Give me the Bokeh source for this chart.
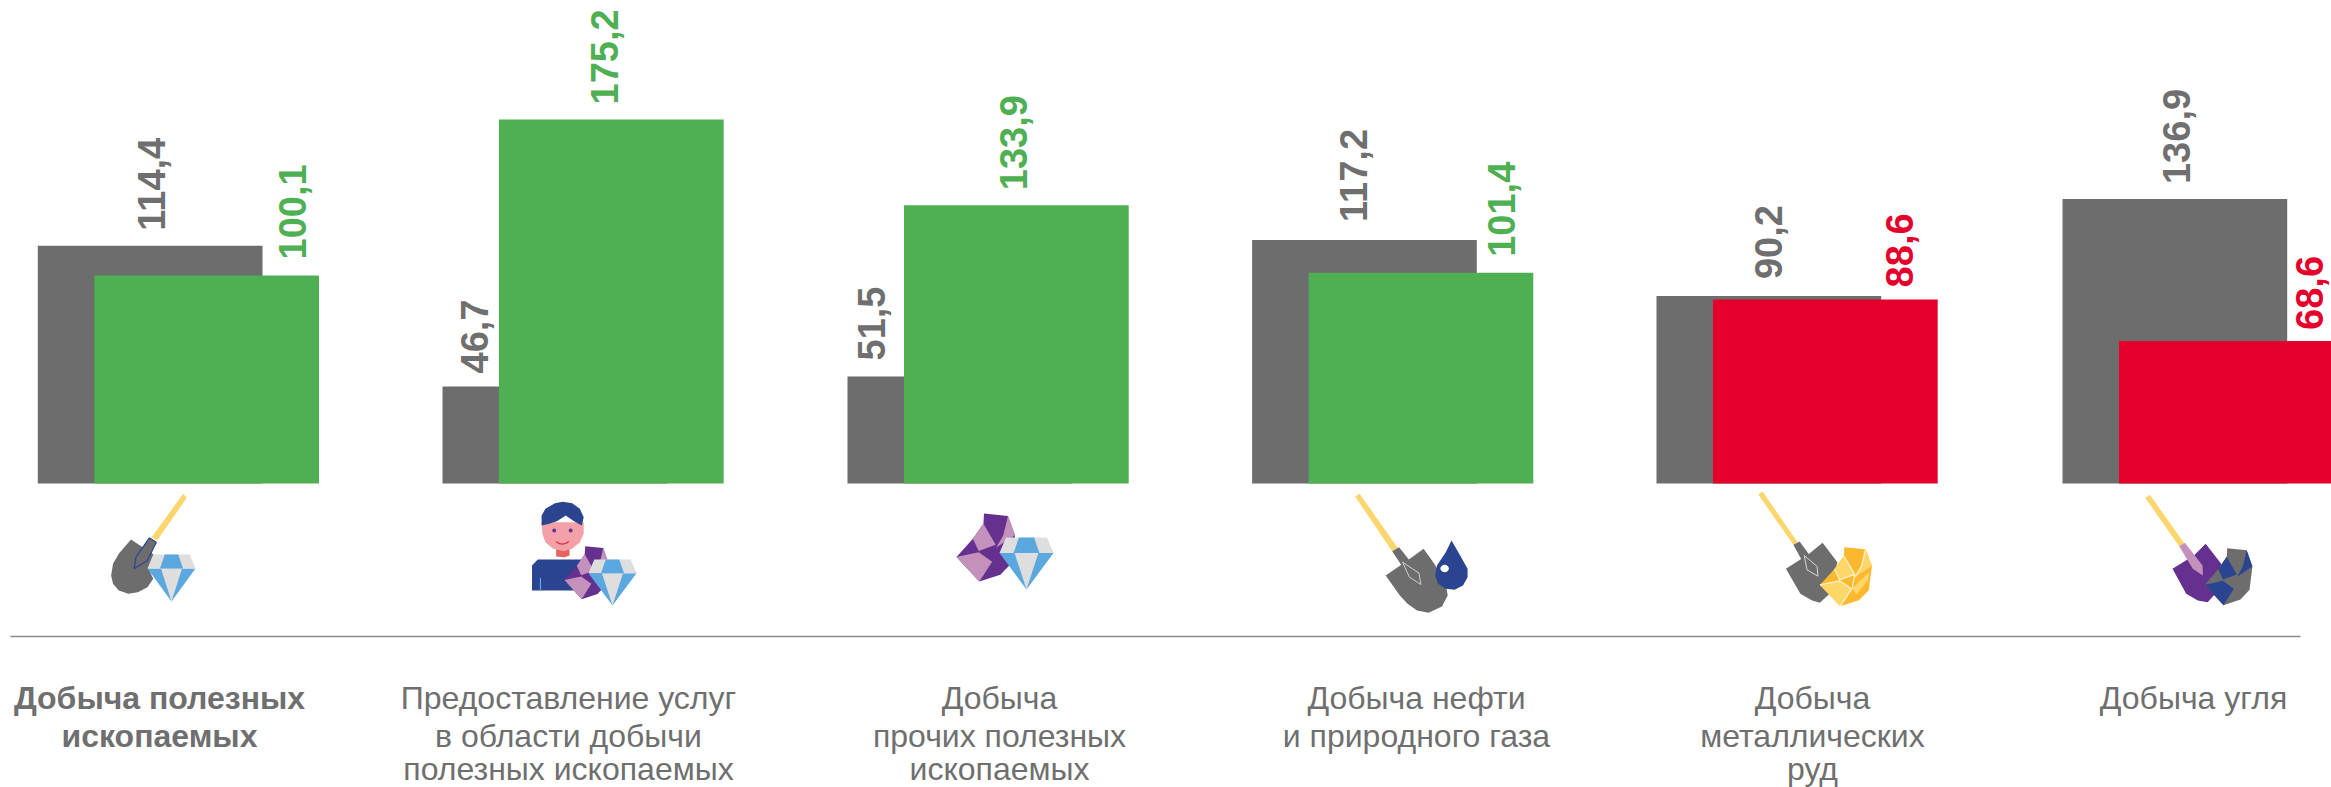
import math
from bokeh.plotting import figure
from bokeh.models import Range1d, ColumnDataSource
from bokeh.core.properties import value
from bokeh.embed import file_html
from bokeh.resources import INLINE

# ---------- data ----------
categories = [
    ["Добыча полезных", "ископаемых"],
    ["Предоставление услуг", "в области добычи", "полезных ископаемых"],
    ["Добыча", "прочих полезных", "ископаемых"],
    ["Добыча нефти", "и природного газа"],
    ["Добыча", "металлических", "руд"],
    ["Добыча угля"],
]
previous_values = [114.4, 46.7, 51.5, 117.2, 90.2, 136.9]
current_values = [100.1, 175.2, 133.9, 101.4, 88.6, 68.6]
current_colors = ["#4FAF53", "#4FAF53", "#4FAF53", "#4FAF53", "#E4002B", "#E4002B"]

# ---------- layout (page pixels) ----------
W, H = 2331, 787
BASE_Y = 483.0
PX_PER_UNIT = 2.078
group_left = [37.3, 442.0, 847.0, 1251.6, 1656.0, 2062.0]
BAR_W = 224.7
BAR_SHIFT = 56.5
prev_label_x = [151, 474, 871, 1353, 1768, 2176]
curr_label_x = [292, 604, 1013, 1501, 1899, 2309]
prev_label_gap = [15, 13, 16, 18, 17, 15]
curr_label_gap = [16, 15, 15, 16, 12, 11]
cat_x = [159, 568, 999, 1416, 1812, 2193]
LINE_Y = [697, 735, 768]
GREY = "#6D6D6D"
TEXT_GREY = "#6F6F6F"

p = figure(width=W, height=H, output_backend="svg", toolbar_location=None,
           x_axis_location=None, y_axis_location=None, min_border=0,
           x_range=Range1d(0, W),
           y_range=Range1d((BASE_Y - H) / PX_PER_UNIT, BASE_Y / PX_PER_UNIT))
p.extra_y_ranges = {"px": Range1d(H, 0)}
p.grid.visible = False
p.outline_line_color = None
p.background_fill_color = "#FFFFFF"
p.border_fill_color = "#FFFFFF"

prev_x = [g + BAR_W / 2 for g in group_left]
curr_x = [g + BAR_SHIFT + BAR_W / 2 for g in group_left]
p.vbar(x=prev_x, width=BAR_W, top=previous_values, bottom=0, fill_color=GREY, line_color=None)
p.vbar(x=curr_x, width=BAR_W, top=current_values, bottom=0, fill_color=current_colors, line_color=None)


def fmt(v):
    return f"{v:.1f}".replace(".", ",")


for xs, vals, gaps, cols in [
    (prev_label_x, previous_values, prev_label_gap, [TEXT_GREY] * 6),
    (curr_label_x, current_values, curr_label_gap, current_colors),
]:
    for x, v, g, c in zip(xs, vals, gaps, cols):
        p.text(x=[x], y=[v], text=[fmt(v)], angle=math.pi / 2, text_align="left", text_baseline="middle",
               text_color=c, text_font=value("Liberation Sans"), text_font_style="bold",
               text_font_size="38px", y_offset=-g)

# ---------- divider ----------
p.line([10, 2300], [636, 636], y_range_name="px", line_color="#8C8C8C", line_width=1.6)

# ---------- category captions ----------
for i, (cx, lines) in enumerate(zip(cat_x, categories)):
    for j, line in enumerate(lines):
        p.text(x=[cx], y=[LINE_Y[j]], text=[line], y_range_name="px", text_align="center",
               text_baseline="middle", text_color=TEXT_GREY, text_font=value("Liberation Sans"),
               text_font_style="bold" if i == 0 else "normal", text_font_size="32px")

# ---------- icons (decorative vector shapes, in crop coordinates) ----------
YEL, BLUE, LBLUE, LGREY = "#FBD56E", "#2B4490", "#5BA7DF", "#DEDEDE"
PURP, LPURP = "#66308F", "#C491BC"
GOLD, LGOLD = "#FDB92E", "#FFD668"
shapes = []
lines_ = []
SX = 1568 / 1800


def conv(pts, ox, sx):
    return [ox + a / sx for a, b in pts], [480 + b / 3 for a, b in pts]


def add(color, pts, ox, sx):
    xs, ys = conv(pts, ox, sx)
    shapes.append((color, xs, ys))


def add_line(color, pts, ox, sx, w=1.2):
    xs, ys = conv(pts, ox, sx)
    lines_.append((color, xs, ys, w))


def disc(cx, cy, rx, ry, n=16):
    return [(cx + rx * math.cos(2 * math.pi * i / n), cy + ry * math.sin(2 * math.pi * i / n)) for i in range(n)]


def diamond(left, top, w, h):
    def P(u, v):
        return (left + u * w, top + v * h)
    raw = [
        (LBLUE, [(0, .30), (1, .30), (.5, 1)]),
        (LGREY, [(.28, .30), (.72, .30), (.5, 1)]),
        (LGREY, [(0, .30), (.12, 0), (.88, 0), (1, .30)]),
        (LBLUE, [(.36, 0), (.64, 0), (.74, .30), (.26, .30)]),
    ]
    for col, pts in raw:
        shapes.append((col, [P(*q)[0] for q in pts], [P(*q)[1] for q in pts]))


def gem(left, top, w, h, dark, light, seams=None):
    def add_n(col, pts):
        shapes.append((col, [left + u * w for u, v in pts], [top + v * h for u, v in pts]))
    add_n(dark, [(.47, 0), (.88, .035), (1, .32), (.94, .73), (.75, .90), (.39, 1), (0, .64), (.28, .37), (.46, .15)])
    add_n(light, [(0, .64), (.38, .57), (.61, .71), (.39, 1)])
    add_n(light, [(.28, .37), (.46, .15), (.67, .46), (.38, .55)])
    add_n(light, [(.88, .035), (1, .32), (.68, .50), (.80, .32)])
    if seams:
        add_n(light, [(.62, .70), (.95, .42), (.93, .55), (.70, .80)])
        for seg in ([(0, .64), (.38, .57), (.61, .71), (.39, 1)],
                    [(.28, .37), (.38, .55), (.67, .46), (.46, .15)],
                    [(.67, .46), (.62, .70)], [(.88, .035), (.80, .32), (.68, .50)]):
            lines_.append((seams, [left + u * w for u, v in seg], [top + v * h for u, v in seg], 1.2))


# icon 1 -- shovel with diamond
O, S = 80, 3 * SX
add(GREY, [(132, 177), (195, 225), (178, 265), (190, 295), (175, 320), (150, 335), (125, 340), (100, 330),
           (85, 310), (80, 285), (85, 250), (100, 220)], O, S)
add(YEL, [(268, 40), (278, 52), (200, 180), (186, 170)], O, S)
add(GREY, [(180, 172), (198, 185), (175, 240), (140, 265), (145, 230)], O, S)
add_line(BLUE, [(180, 172), (198, 185), (175, 240), (140, 265), (145, 230), (180, 172)], O, S)
diamond(147, 554, 48, 47)

# icon 2 -- person with gem and diamond
add(BLUE, [(1180, 330), (1180, 255), (1195, 237), (1310, 237), (1335, 330)], O, S)
add_line(LBLUE, [(1202, 292), (1202, 328)], O, S)
add("#E8625F", [(1243, 205), (1278, 205), (1278, 225), (1265, 230), (1243, 228)], O, S)
add("#F4A0A8", [(1205, 125), (1315, 125), (1315, 160), (1305, 185), (1285, 205), (1262, 212), (1235, 205),
                (1215, 185), (1207, 160)], O, S)
add(BLUE, [(1205, 135), (1205, 105), (1215, 85), (1240, 68), (1260, 64), (1285, 68), (1305, 85), (1315, 110),
           (1310, 135), (1290, 122), (1268, 105), (1245, 122), (1225, 130)], O, S)
add(PURP, disc(1238, 150, 5, 6), O, S)
add(PURP, disc(1281, 150, 5, 6), O, S)
add_line("#E0334A", [(1243, 183), (1250, 189), (1260, 191), (1270, 188), (1276, 182)], O, S, 1.4)
gem(564, 545.7, 44, 53, PURP, LPURP)
diamond(588, 559, 48, 46)

# icon 3 -- gem with diamond
O = 900
gem(956, 513, 58.5, 68, PURP, LPURP)
diamond(999, 537, 54, 52)

# icon 4 -- shovel with drop
add(GREY, [(1367, 205), (1395, 250), (1425, 310), (1430, 345), (1415, 378), (1380, 397), (1350, 390), (1325, 370),
           (1305, 345), (1268, 285), (1325, 240)], O, S)
add(YEL, [(1188, 48), (1200, 40), (1300, 203), (1285, 212)], O, S)
add(GREY, [(1285, 212), (1303, 200), (1355, 275), (1360, 312), (1330, 290)], O, S)
add_line("#D0D0D0", [(1312, 245), (1355, 278), (1360, 312), (1330, 290), (1312, 245)], O, S, 1)
add(BLUE, [(1440, 180), (1460, 220), (1482, 265), (1482, 290), (1470, 315), (1448, 328), (1425, 325), (1405, 310),
           (1397, 285), (1402, 255), (1425, 215)], O, S)
add("#FFFFFF", disc(1422, 264, 11, 11), O, S)

# icon 5 -- shovel with ore
O, S = 1720, 1568 / 611
add(GREY, [(262, 187), (300, 245), (280, 340), (255, 367), (235, 360), (205, 340), (168, 265), (225, 222)], O, S)
add(YEL, [(97, 42), (108, 33), (198, 185), (187, 193)], O, S)
add(GREY, [(187, 193), (203, 183), (248, 255), (250, 287), (222, 268)], O, S)
add_line("#D8D8D8", [(215, 225), (248, 258), (250, 287), (222, 268), (215, 225)], O, S, 1)
gem(1819.4, 546.7, 52, 59, GOLD, LGOLD, seams="#FFF3CF")

# icon 6 -- shovel with coal
add(PURP, [(1245, 190), (1285, 250), (1270, 340), (1250, 365), (1225, 360), (1195, 340), (1160, 265), (1215, 225)], O, S)
add(YEL, [(1090, 52), (1102, 43), (1190, 188), (1177, 197)], O, S)
add(LPURP, [(1177, 197), (1192, 187), (1237, 255), (1238, 285), (1212, 265)], O, S)
gem(2204.4, 547.7, 47.5, 57, GREY, BLUE)

icon_src = ColumnDataSource(dict(xs=[s[1] for s in shapes], ys=[s[2] for s in shapes], c=[s[0] for s in shapes]))
p.patches("xs", "ys", source=icon_src, fill_color="c", line_color=None, y_range_name="px")
for col, xs, ys, w in lines_:
    p.line(xs, ys, line_color=col, line_width=w, y_range_name="px")

open("out.html", "w").write(file_html(p, INLINE))
